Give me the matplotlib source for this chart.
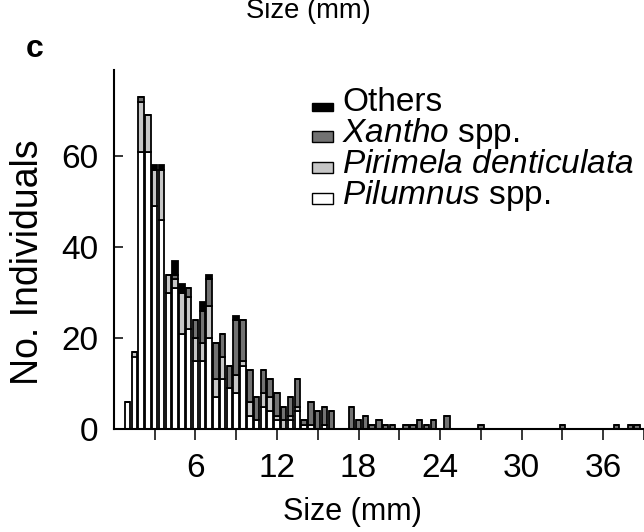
import matplotlib
matplotlib.use('Agg')
import matplotlib.pyplot as plt
from matplotlib.patches import Rectangle

plt.rcParams['font.family'] = ['Liberation Sans', 'DejaVu Sans']
plt.rcParams['mathtext.fontset'] = 'custom'
plt.rcParams['mathtext.rm'] = 'Liberation Sans'
plt.rcParams['mathtext.it'] = 'Liberation Sans:italic'

# ---- data (size class in mm, counts per group) ----
size_mm = [1.0, 1.5, 2.0, 2.5, 3.0, 3.5, 4.0, 4.5, 5.0, 5.5, 6.0, 6.5, 7.0, 7.5,
           8.0, 8.5, 9.0, 9.5, 10.0, 10.5, 11.0, 11.5, 12.0, 12.5, 13.0, 13.5,
           14.0, 14.5, 15.0, 15.5, 16.0, 17.5, 18.0, 18.5, 19.0, 19.5, 20.0,
           20.5, 21.5, 22.0, 22.5, 23.0, 23.5, 24.5, 27.0, 33.0, 37.0, 38.0, 38.5]
pilumnus = [6, 16, 61, 61, 49, 46, 30, 31, 21, 22, 15, 15, 20, 7,
            11, 9, 8, 14, 3, 2, 5, 4, 2, 0, 2, 4,
            1, 1, 0, 1, 0, 0, 0, 0, 0, 0, 0,
            0, 0, 0, 0, 0, 0, 0, 0, 0, 0, 0, 0]
pirimela = [0, 1, 11, 8, 8, 11, 4, 2, 9, 7, 5, 4, 7, 4,
            5, 0, 4, 1, 3, 0, 3, 3, 1, 2, 1, 1,
            0, 0, 0, 0, 0, 0, 0, 0, 0, 0, 0,
            0, 0, 0, 0, 0, 0, 0, 0, 0, 0, 0, 0]
xantho = [0, 0, 1, 0, 0, 0, 0, 1, 0, 2, 4, 7, 6, 8,
          5, 5, 12, 9, 7, 5, 5, 4, 5, 3, 4, 6,
          1, 5, 4, 4, 4, 5, 2, 3, 1, 2, 1,
          1, 1, 1, 2, 1, 2, 3, 1, 1, 1, 1, 1]
others = [0, 0, 0, 0, 1, 1, 0, 3, 2, 0, 0, 2, 1, 0,
          0, 0, 1, 0, 0, 0, 0, 0, 0, 0, 0, 0,
          0, 0, 0, 0, 0, 0, 0, 0, 0, 0, 0,
          0, 0, 0, 0, 0, 0, 0, 0, 0, 0, 0, 0]

group_names = ['Others', r'$\it{Xantho}$ spp.', r'$\it{Pirimela\ denticulata}$', r'$\it{Pilumnus}$ spp.']
colors = {'pil': '#ffffff', 'pir': '#c6c6c6', 'xan': '#727272', 'oth': '#000000'}

x_ticks = [3, 6, 9, 12, 15, 18, 21, 24, 27, 30, 33, 36, 39]
x_labels = ['', '6', '', '12', '', '18', '', '24', '', '30', '', '36', '']
y_ticks = [0, 20, 40, 60]

W, H = 644, 532
fig = plt.figure(figsize=(W / 100, H / 100), dpi=100)

def fx(x):
    return x / W

def fy(y):
    return 1 - y / H

ax = fig.add_axes([fx(113.9), fy(429.3), 40 * 13.59 / W, 79 * 4.55 / H])

bw = 0.40
lw = 1.3
b1 = [p for p in pilumnus]
b2 = [p + q for p, q in zip(pilumnus, pirimela)]
b3 = [a + b for a, b in zip(b2, xantho)]
ax.bar(size_mm, pilumnus, width=bw, color=colors['pil'], edgecolor='black', linewidth=lw)
ax.bar(size_mm, pirimela, width=bw, bottom=b1, color=colors['pir'], edgecolor='black', linewidth=lw)
ax.bar(size_mm, xantho, width=bw, bottom=b2, color=colors['xan'], edgecolor='black', linewidth=lw)
ax.bar(size_mm, others, width=bw, bottom=b3, color=colors['oth'], edgecolor='black', linewidth=lw)

ax.set_xlim(0, 40)
ax.set_ylim(0, 79)
for s in ['top', 'right']:
    ax.spines[s].set_visible(False)
for s in ['left', 'bottom']:
    ax.spines[s].set_linewidth(1.5)
ax.set_xticks(x_ticks)
ax.set_xticklabels(x_labels)
ax.set_yticks(y_ticks)
ax.tick_params(axis='x', direction='out', length=8, width=1.1, labelsize=24, pad=9)
ax.tick_params(axis='y', direction='in', length=6.5, width=1.1, labelsize=24, pad=11)

# axis labels
fig.text(fx(352), fy(512), 'Size (mm)', ha='center', va='center', fontsize=22)
fig.text(fx(28), fy(262), 'No. Individuals', ha='center', va='center', rotation=90, fontsize=27)
# panel letter and cropped label from panel above
fig.text(fx(26), fy(57), 'c', ha='left', va='baseline', fontsize=23, fontweight='bold')
fig.text(fx(308), fy(18), 'Size (mm)', ha='center', va='baseline', fontsize=19.7)

# legend drawn manually
leg_fc = [colors['oth'], colors['xan'], colors['pir'], colors['pil']]
baselines = [111, 142, 173, 204]
patch_h = [8, 11, 11, 11]
for name, fc, yb, ph in zip(group_names, leg_fc, baselines, patch_h):
    r = Rectangle((fx(312), fy(yb)), 21 / W, ph / H, transform=fig.transFigure,
                  facecolor=fc, edgecolor='black', linewidth=1.0)
    fig.add_artist(r)
    fig.text(fx(342), fy(yb), name, ha='left', va='baseline', fontsize=24)

fig.savefig('out.png', dpi=100)
